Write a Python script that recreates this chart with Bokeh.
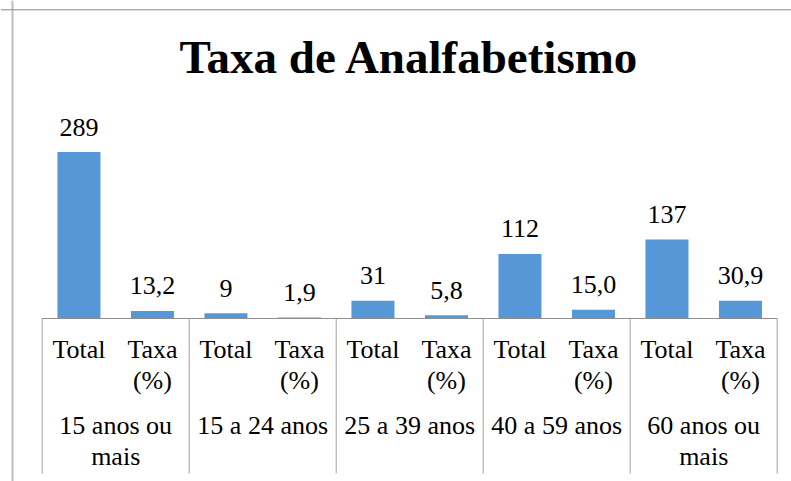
from bokeh.plotting import figure
from bokeh.models import Range1d, ColumnDataSource, Span
from bokeh.core.properties import value
from bokeh.embed import file_html
from bokeh.resources import INLINE

# ---- data ----
title = "Taxa de Analfabetismo"
groups = ["15 anos ou\nmais", "15 a 24 anos", "25 a 39 anos", "40 a 59 anos", "60 anos ou\nmais"]
sub_labels = ["Total", "Taxa\n(%)"]
totals = [289, 9, 31, 112, 137]
rates = [13.2, 1.9, 5.8, 15.0, 30.9]

# ---- layout constants (pixels) ----
W, H = 791, 481
slot_px = 73.5
axis_left_px = 41.7
base_px = 318.0
px_per_unit = 0.576
sep_bottom_px = 473.0
FONT = "Liberation Serif"

xs = -axis_left_px / slot_px
xe = xs + W / slot_px
ye = base_px / px_per_unit
ys = ye - H / px_per_unit

n_sub = len(sub_labels)
n = len(groups) * n_sub

vals, labels, xc = [], [], []
for g in range(len(groups)):
    for s, v in enumerate([totals[g], rates[g]]):
        i = g * n_sub + s
        xc.append(i + 0.5)
        vals.append(v)
        labels.append(str(v) if s == 0 else f"{v:.1f}".replace(".", ","))

src = ColumnDataSource(dict(x=xc, top=vals, label=labels))

p = figure(width=W, height=H, x_range=Range1d(xs, xe), y_range=Range1d(ys, ye),
           output_backend="svg", toolbar_location=None,
           x_axis_location=None, y_axis_location=None, min_border=0)
p.grid.visible = False
p.outline_line_color = None
p.background_fill_color = "white"
p.border_fill_color = "white"

# bars
p.vbar(x="x", top="top", bottom=0, width=43 / slot_px, source=src,
       fill_color="#5597d7", line_color=None)

# value labels
p.text(x="x", y="top", text="label", source=src, y_offset=-25,
       text_align="center", text_baseline="alphabetic",
       text_font=value(FONT), text_font_size="26px", text_color="black")

# axis line and group separators
p.segment(x0=[0], y0=[0], x1=[n], y1=[0], line_color="#8f8f8f", line_width=1)
sep_x = [g * n_sub for g in range(len(groups) + 1)]
sep_end = -(sep_bottom_px - base_px) / px_per_unit
p.segment(x0=sep_x, y0=[0] * len(sep_x), x1=sep_x, y1=[sep_end] * len(sep_x),
          line_color="#a0a0a0", line_width=1)

# sub category labels
for li, off in enumerate([30.5, 62]):
    lx, lt = [], []
    for i in range(n):
        parts = sub_labels[i % n_sub].split("\n")
        if li < len(parts):
            lx.append(i + 0.5)
            lt.append(parts[li])
    p.text(x=lx, y=[0] * len(lx), text=lt, y_offset=off,
           text_align="center", text_baseline="alphabetic",
           text_font=value(FONT), text_font_size="26px", text_color="black")

# group labels
for li, off in enumerate([107, 138]):
    gx, gt = [], []
    for g, name in enumerate(groups):
        parts = name.split("\n")
        if li < len(parts):
            gx.append(g * n_sub + n_sub / 2)
            gt.append(parts[li])
    p.text(x=gx, y=[0] * len(gx), text=gt, y_offset=off,
           text_align="center", text_baseline="alphabetic",
           text_font=value(FONT), text_font_size="26px", text_color="black")

# title
p.text(x=[n / 2], y=[ye], text=[title], y_offset=56,
       text_align="center", text_baseline="alphabetic",
       text_font=value(FONT), text_font_size="47px", text_font_style="bold",
       text_color="black")

# chart border (left and top)
p.add_layout(Span(location=xs + 12 / slot_px, dimension="height",
                  line_color="#bdbdbd", line_width=2))
p.add_layout(Span(location=ye - 9.3 / px_per_unit, dimension="width",
                  line_color="#868686", line_width=1))

open("out.html", "w").write(file_html(p, INLINE))
